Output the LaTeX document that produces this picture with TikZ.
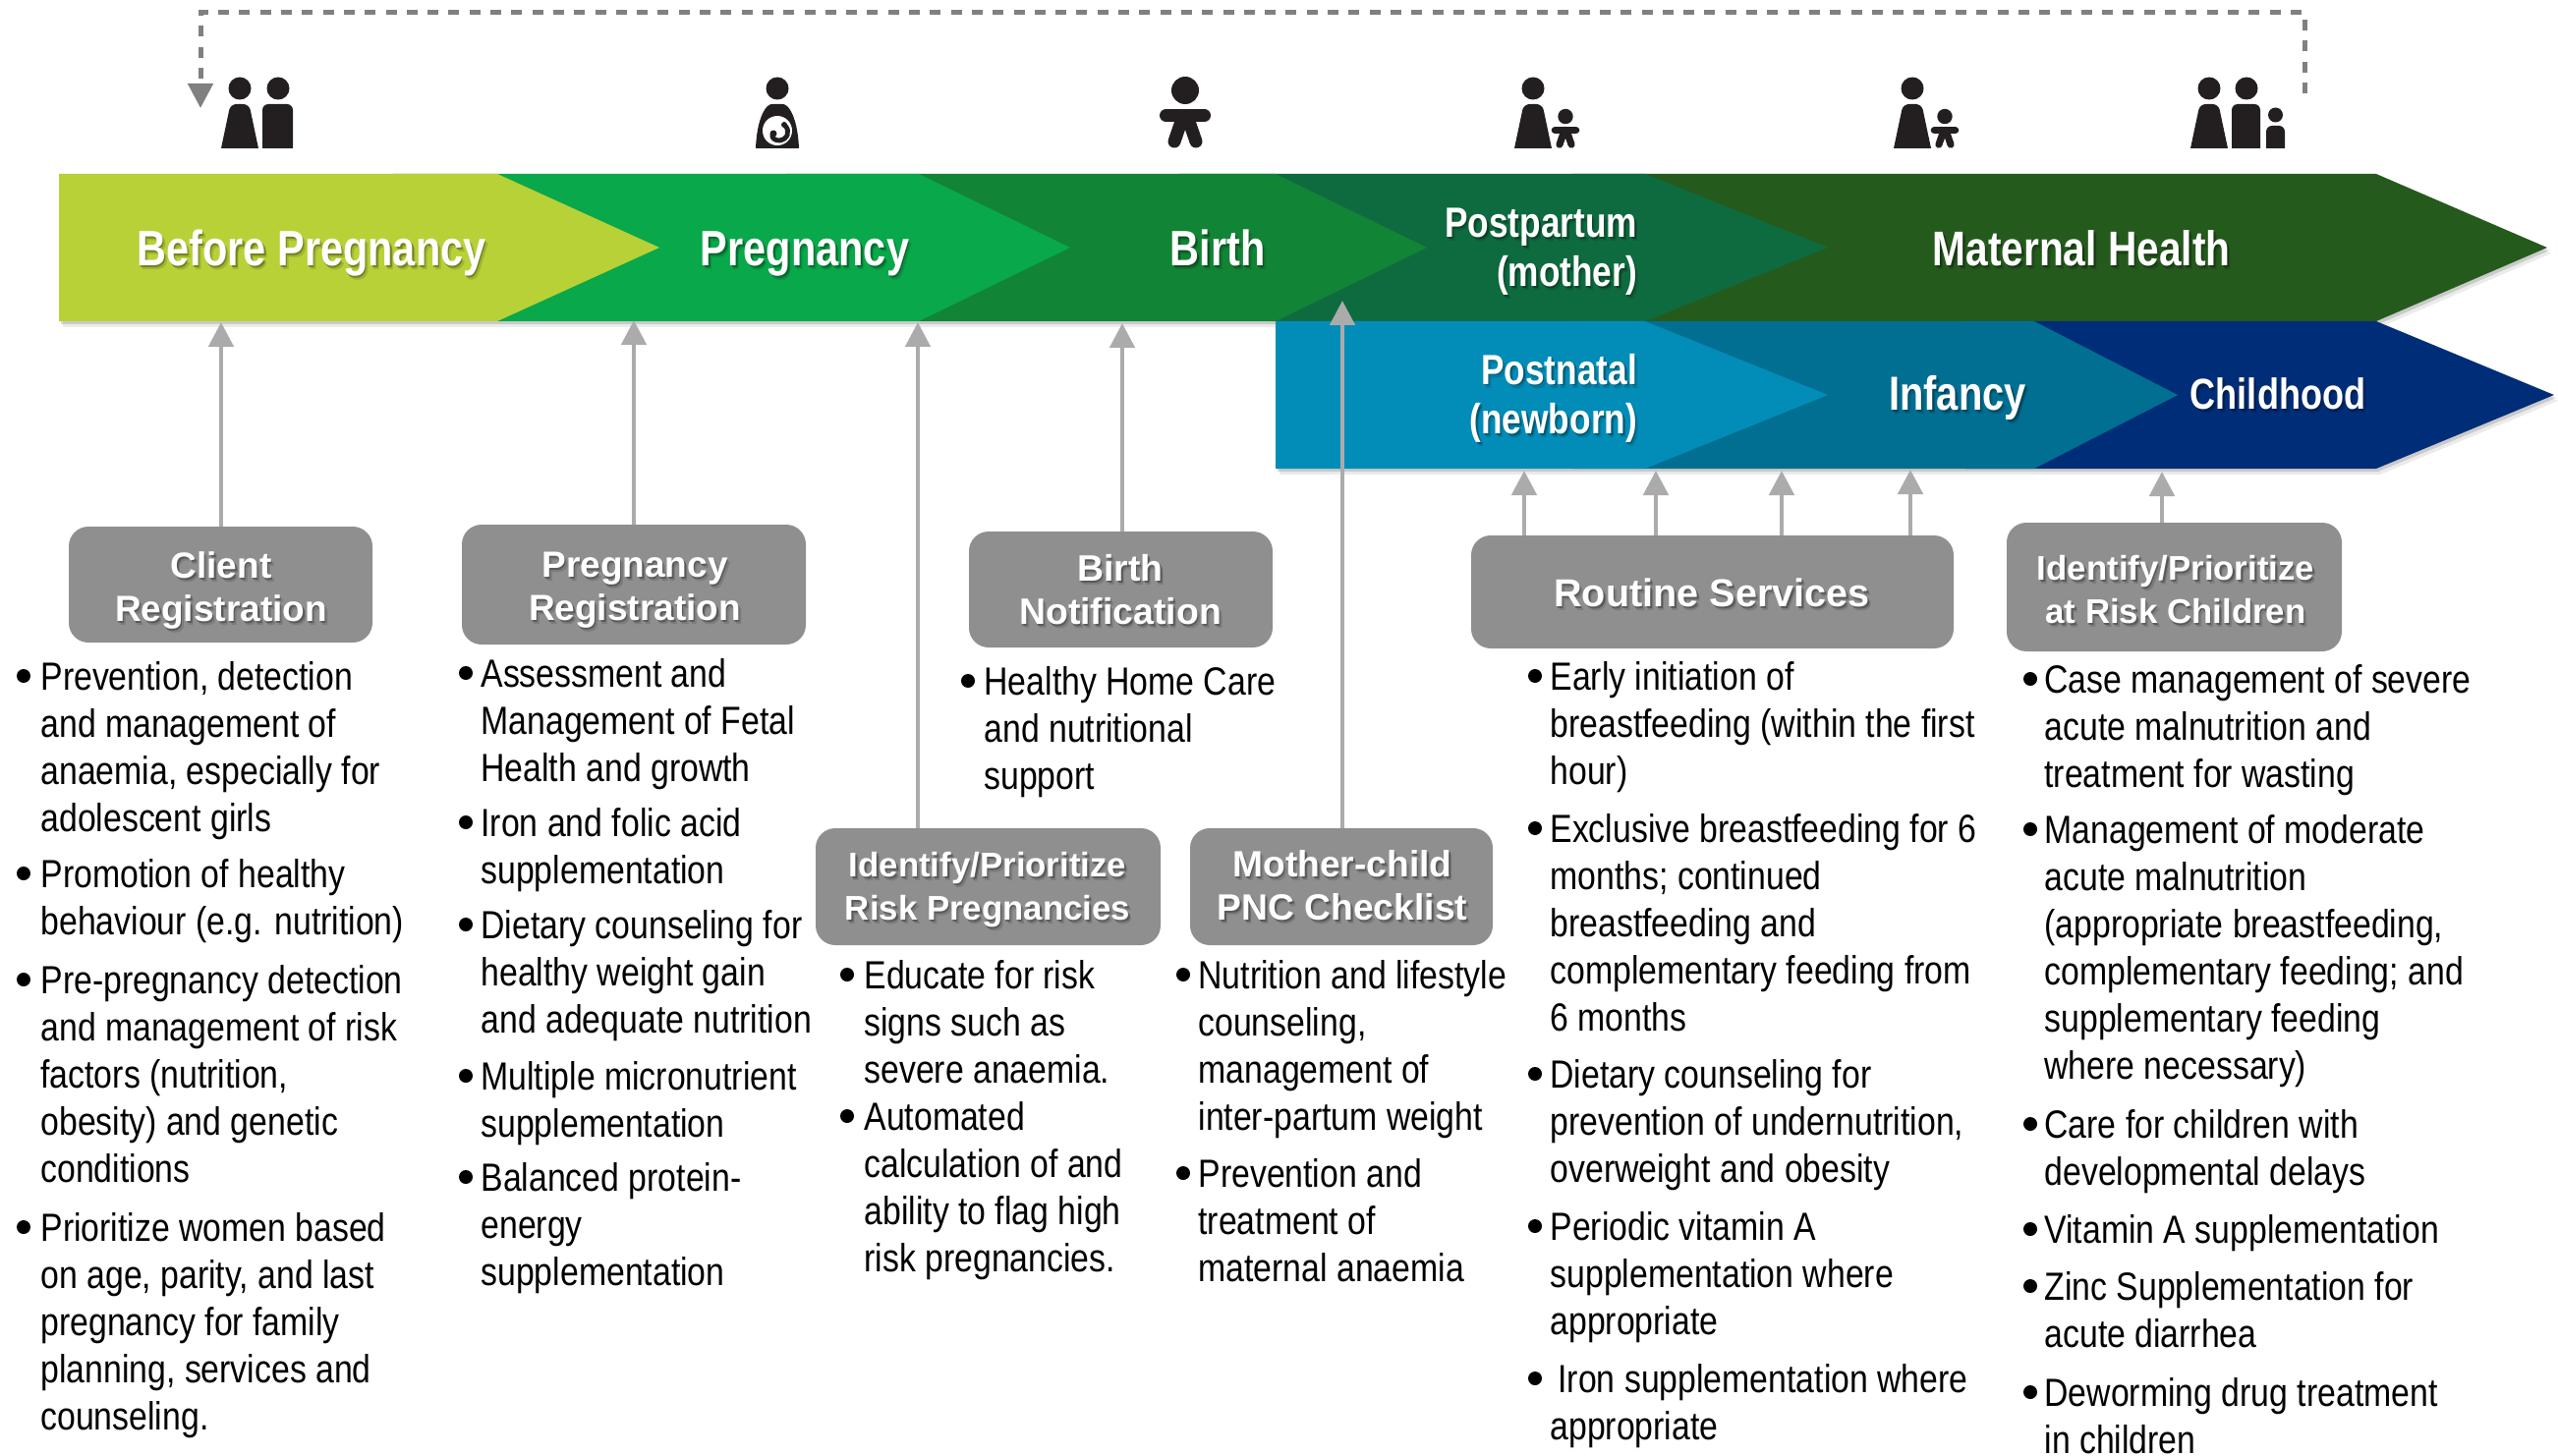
\documentclass[tikz,border=0pt]{standalone}
\usepackage{fontspec}
\setmainfont{Liberation Sans}
\newfontfamily\bodyf{Liberation Sans}[FakeStretch=0.845]
\newfontfamily\bandf{Liberation Sans}[FakeStretch=0.82]
\usetikzlibrary{arrows.meta}
\definecolor{cLime}{HTML}{B8D137}
\definecolor{cGreen}{HTML}{09A84A}
\definecolor{cBirth}{HTML}{128435}
\definecolor{cPost}{HTML}{0E6B40}
\definecolor{cMat}{HTML}{255A1D}
\definecolor{cNat}{HTML}{028DB8}
\definecolor{cInf}{HTML}{016F92}
\definecolor{cChild}{HTML}{002D78}
\definecolor{cBox}{HTML}{8F8F8F}
\definecolor{cArr}{HTML}{ABABAB}
\definecolor{cDash}{HTML}{808080}
\definecolor{cIcon}{HTML}{231F20}
\tikzset{
  lblbase/.style={inner sep=0pt,outer sep=0pt},
  bandfont/.style={font={\bandf\bfseries\fontsize{#1}{25}\selectfont\lineskiplimit=-100pt}},
  boxfont/.style={font={\bfseries\fontsize{#1}{22}\selectfont\lineskiplimit=-100pt}},
  greybox/.style={rectangle,rounded corners=10pt,fill=cBox,inner sep=0pt,outer sep=0pt},
  upArrow/.style={draw=cArr,line width=2.4pt,-{Triangle[length=12.5pt,width=12.5pt]}},
  loopArrow/.style={draw=cDash,line width=2.5pt,dash pattern=on 5.5pt off 5.15pt,-{Triangle[length=12.5pt,width=12.5pt]}},
  bodytext/.style={inner sep=0pt,outer sep=0pt,anchor=north west,align=left,text=black,font={\bodyf\fontsize{20}{24}\selectfont\lineskiplimit=-100pt}},
  bulletdot/.style={circle,fill=black,inner sep=0pt,minimum size=7pt}
}
% shadowed label: name, x, baseline y, placement+font style, text
\newcommand\lbl[5]{%
  \node[lblbase,#4,text=black,text opacity=.13] (#1s2) at (#2+3,#3-36) {\rule{0pt}{20pt}#5};
  \node[lblbase,#4,text=black,text opacity=.28] (#1s1) at (#2+1.5,#3-38) {\rule{0pt}{20pt}#5};
  \node[lblbase,#4,text=white] (#1) at (#2,#3-40) {\rule{0pt}{20pt}#5};
}
\newcommand\bitem[5]{%
  \node[bulletdot] (#1b) at (#2,#4-14) {};
  \node[bodytext] (#1) at (#3-1.5,#4-40) {\rule{0pt}{20pt}#5};
}
\newcommand\womanicon[1]{%
  \fill[cIcon] (#1,90) circle (11.5);
  \fill[cIcon] (#1-19,151) [rounded corners=3pt] -- (#1-9.5,106) -- (#1+9.5,106) [sharp corners] -- (#1+19,151) -- cycle;
}
\newcommand\manicon[3]{% head x, left, right
  \fill[cIcon] (#1,90) circle (11.5);
  \fill[cIcon] (#2,151) [rounded corners=3pt] -- (#2,106) -- (#3,106) [sharp corners] -- (#3,151) -- cycle;
}
\newcommand\babyicon[2]{%
  \begin{scope}[shift={(#1,151)},scale=#2]
    \fill[cIcon] (0,-59) circle (14);
    \draw[cIcon,line width=#2*6.5pt,line cap=round] (-19.5,-33.5) -- (19.5,-33.5);
    \draw[cIcon,line width=#2*6.5pt,line cap=round] (-3.4,-29) -- (-11,-7);
    \draw[cIcon,line width=#2*6.5pt,line cap=round] (3.4,-29) -- (11,-7);
  \end{scope}
}
\begin{document}
\begin{tikzpicture}[x=0.5pt,y=-0.5pt]
\useasboundingbox (0,0) rectangle (2603,1482);
\clip (0,0) rectangle (2603,1482);

% soft shadows of the bands
\foreach \dx/\dy/\op in {4/6/.08,2/3/.14}{
  \fill[black,opacity=\op,shift={(\dx,\dy)}] (60,177) -- (2418,177) -- (2592,252) -- (2418,327) -- (60,327) -- cycle;
  \fill[black,opacity=\op,shift={(\dx,\dy)}] (1298,327) -- (2418,327) -- (2599,402) -- (2418,477) -- (1298,477) -- cycle;
}
% top band
\fill[cMat] (1600,177) -- (2418,177) -- (2592,252) -- (2418,327) -- (1600,327) -- cycle;
\fill[cPost] (1200,177) -- (1674,177) -- (1860,252) -- (1674,327) -- (1200,327) -- cycle;
\fill[cBirth] (800,177) -- (1298,177) -- (1452,252) -- (1298,327) -- (800,327) -- cycle;
\fill[cGreen] (400,177) -- (935,177) -- (1089,252) -- (935,327) -- (400,327) -- cycle;
\fill[cLime] (60,177) -- (506,177) -- (671,252) -- (506,327) -- (60,327) -- cycle;
% bottom band
\fill[cChild] (2000,327) -- (2418,327) -- (2599,402) -- (2418,477) -- (2000,477) -- cycle;
\fill[cInf] (1600,327) -- (2070,327) -- (2216,402) -- (2070,477) -- (1600,477) -- cycle;
\fill[cNat] (1298,327) -- (1674,327) -- (1860,402) -- (1674,477) -- (1298,477) -- cycle;

% band labels
\lbl{before}{317}{271}{anchor=north,align=center,bandfont=25.3}{Before Pregnancy}
\lbl{pregn}{819}{271}{anchor=north,align=center,bandfont=25.3}{Pregnancy}
\lbl{birth}{1239}{271}{anchor=north,align=center,bandfont=25.3}{Birth}
\lbl{postp}{1666}{242}{anchor=north east,align=right,bandfont=21.5}{Postpartum\\(mother)}
\lbl{mat}{2118}{271}{anchor=north,align=center,bandfont=24.8}{Maternal Health}
\lbl{postn}{1666}{391}{anchor=north east,align=right,bandfont=21.5}{Postnatal\\(newborn)}
\lbl{inf}{1992}{417}{anchor=north,align=center,bandfont=24.3}{Infancy}
\lbl{child}{2318}{416}{anchor=north,align=center,bandfont=22}{Childhood}

% icons
\womanicon{244}\manicon{283}{267}{298}
\fill[cIcon] (791,90) circle (11.5);
\fill[cIcon] (769,151) .. controls (770,128) and (775,114) .. (781,108) .. controls (783,106) and (785,106) .. (787,106) -- (795,106) .. controls (797,106) and (799,106) .. (801,108) .. controls (807,114) and (812,128) .. (813,151) -- cycle;
\fill[white] (791,133) circle (15);
\draw[cIcon,line width=2.4pt,line cap=round] (799,128) .. controls (804,133) and (802,142) .. (793,143) .. controls (788,143) and (785,140) .. (786,137);
\fill[cIcon] (787,136) circle (3.5);
\fill[cIcon] (798,127) circle (3);
\babyicon{1206}{1}
\womanicon{1560}\babyicon{1593}{0.55}
\womanicon{1946}\babyicon{1979}{0.55}
\womanicon{2248}\manicon{2286}{2271}{2300}
\fill[cIcon] (2315.5,117) circle (7.5);
\fill[cIcon] (2306,151) [rounded corners=3pt] -- (2306,128) -- (2325,128) [sharp corners] -- (2325,151) -- cycle;

% loop-back connector
\coordinate (loopStart) at (2345,95);
\coordinate (loopA) at (2345,13);
\coordinate (loopB) at (204,13);
\coordinate (loopEnd) at (204,110);
\draw[loopArrow] (loopStart) -- (loopA) -- (loopB) -- (loopEnd);

% grey boxes
\node[greybox,minimum width=154.5pt,minimum height=59pt] (bClient) at (224.5,595) {};
\node[greybox,minimum width=175pt,minimum height=61pt] (bPreg) at (645,595) {};
\node[greybox,minimum width=154.5pt,minimum height=59pt] (bBirth) at (1140.5,600) {};
\node[greybox,minimum width=175.5pt,minimum height=59.5pt] (bRisk) at (1005.5,902.5) {};
\node[greybox,minimum width=154pt,minimum height=59.5pt] (bPnc) at (1365,902.5) {};
\node[greybox,minimum width=245.5pt,minimum height=57.5pt] (bRoutine) at (1742.5,602.5) {};
\node[greybox,minimum width=170.5pt,minimum height=65.5pt] (bKids) at (2212.5,597.5) {};

% connectors
\coordinate (tClient) at (225,328);
\coordinate (tPreg) at (645,326);
\coordinate (tRisk) at (934,328);
\coordinate (tBirth) at (1142,329);
\coordinate (tPnc) at (1366,306);
\coordinate (tR1) at (1551,479);
\coordinate (tR2) at (1685,479);
\coordinate (tR3) at (1813,479);
\coordinate (tR4) at (1944,478);
\coordinate (tKids) at (2200,480);
\draw[upArrow] (bClient.north -| tClient) -- (tClient);
\draw[upArrow] (bPreg.north -| tPreg) -- (tPreg);
\draw[upArrow] (bRisk.north -| tRisk) -- (tRisk);
\draw[upArrow] (bBirth.north -| tBirth) -- (tBirth);
\draw[upArrow] (bPnc.north -| tPnc) -- (tPnc);
\draw[upArrow] (bRoutine.north -| tR1) -- (tR1);
\draw[upArrow] (bRoutine.north -| tR2) -- (tR2);
\draw[upArrow] (bRoutine.north -| tR3) -- (tR3);
\draw[upArrow] (bRoutine.north -| tR4) -- (tR4);
\draw[upArrow] (bKids.north -| tKids) -- (tKids);

% box labels
\lbl{lClient}{225}{588}{anchor=north,align=center,boxfont=18.5}{Client\\Registration}
\lbl{lPreg}{646}{587}{anchor=north,align=center,boxfont=18.5}{Pregnancy\\Registration}
\lbl{lBirth}{1140}{591}{anchor=north,align=center,boxfont=18.7}{Birth\\Notification}
\lbl{lRisk}{1005}{892}{anchor=north,align=center,boxfont=17.4}{Identify/Prioritize\\Risk Pregnancies}
\lbl{lPnc}{1366}{892}{anchor=north,align=center,boxfont=18.6}{Mother-child\\PNC Checklist}
\lbl{lRoutine}{1742}{617}{anchor=north,align=center,boxfont=19.8}{Routine Services}
\lbl{lKids}{2214}{590}{anchor=north,align=center,boxfont=17.4}{Identify/Prioritize\\at Risk Children}

% column 1
\bitem{a1}{24}{43}{702}{Prevention, detection\\and management of\\anaemia, especially for\\adolescent girls}
\bitem{a2}{24}{43}{903}{Promotion of healthy\\behaviour (e.g. nutrition)}
\bitem{a3}{24}{43}{1011}{Pre-pregnancy detection\\and management of risk\\factors (nutrition,\\obesity) and genetic\\conditions}
\bitem{a4}{24}{43}{1263}{Prioritize women based\\on age, parity, and last\\pregnancy for family\\planning, services and\\counseling.}
% column 2
\bitem{b1}{474}{491}{699}{Assessment and\\Management of Fetal\\Health and growth}
\bitem{b2}{474}{491}{851}{Iron and folic acid\\supplementation}
\bitem{b3}{474}{491}{955}{Dietary counseling for\\healthy weight gain\\and adequate nutrition}
\bitem{b4}{474}{491}{1109}{Multiple micronutrient\\supplementation}
\bitem{b5}{474}{491}{1212}{Balanced protein-\\energy\\supplementation}
% column 3
\bitem{c1}{862}{881}{1006}{Educate for risk\\signs such as\\severe anaemia.}
\bitem{c2}{862}{881}{1150}{Automated\\calculation of and\\ability to flag high\\risk pregnancies.}
% column 4
\bitem{d1}{985}{1003}{707}{Healthy Home Care\\and nutritional\\support}
% column 5
\bitem{e1}{1204}{1221}{1006}{Nutrition and lifestyle\\counseling,\\management of\\inter-partum weight}
\bitem{e2}{1204}{1221}{1208}{Prevention and\\treatment of\\maternal anaemia}
% column 6
\bitem{f1}{1562}{1579}{702}{Early initiation of\\breastfeeding (within the first\\hour)}
\bitem{f2}{1562}{1579}{857}{Exclusive breastfeeding for 6\\months; continued\\breastfeeding and\\complementary feeding from\\6 months}
\bitem{f3}{1562}{1579}{1107}{Dietary counseling for\\prevention of undernutrition,\\overweight and obesity}
\bitem{f4}{1562}{1579}{1262}{Periodic vitamin A\\supplementation where\\appropriate}
\bitem{f5}{1562}{1587}{1417}{Iron supplementation where}
\node[bodytext] (f5b2) at (1577.5,1425) {\rule{0pt}{20pt}appropriate};
% column 7
\bitem{g1}{2066}{2082}{705}{Case management of severe\\acute malnutrition and\\treatment for wasting}
\bitem{g2}{2066}{2082}{858}{Management of moderate\\acute malnutrition\\(appropriate breastfeeding,\\complementary feeding; and\\supplementary feeding\\where necessary)}
\bitem{g3}{2066}{2082}{1158}{Care for children with\\developmental delays}
\bitem{g4}{2066}{2082}{1265}{Vitamin A supplementation}
\bitem{g5}{2066}{2082}{1323}{Zinc Supplementation for\\acute diarrhea}
\bitem{g6}{2066}{2082}{1431}{Deworming drug treatment\\in children}
\end{tikzpicture}
\end{document}
